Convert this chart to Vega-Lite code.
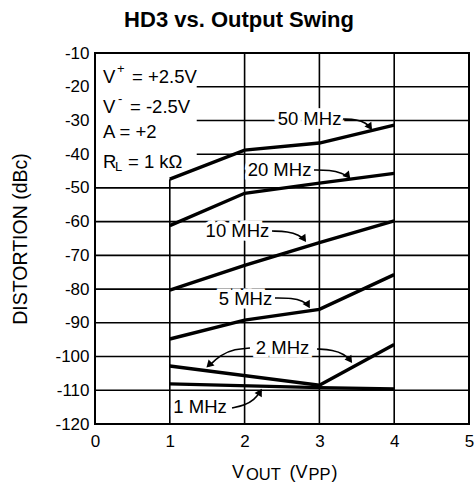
{
  "$schema": "https://vega.github.io/schema/vega-lite/v6.json",
  "width": 374,
  "height": 371,
  "autosize": {"type": "none"},
  "padding": {"left": 95, "top": 53, "right": 6, "bottom": 71},
  "background": "white",
  "config": {
    "font": "Liberation Sans",
    "view": {"stroke": "black", "strokeWidth": 2},
    "axis": {"labelColor": "black", "titleColor": "black", "labelFont": "Liberation Sans", "titleFont": "Liberation Sans", "grid": false, "ticks": false, "domain": false, "labelOverlap": false}
  },
  "title": {"text": "HD3 vs. Output Swing", "font": "Liberation Sans", "fontSize": 22, "fontWeight": "bold", "color": "black", "anchor": "middle", "dx": -43, "offset": 12},
  "datasets": {
    "grid": [
      {"x": 1, "x2": 1, "y": -120, "y2": -47.4},
      {"x": 2, "x2": 2, "y": -120, "y2": -10},
      {"x": 3, "x2": 3, "y": -120, "y2": -10},
      {"x": 4, "x2": 4, "y": -120, "y2": -10},
      {"x": 1.36, "x2": 5, "y": -20, "y2": -20},
      {"x": 1.36, "x2": 5, "y": -30, "y2": -30},
      {"x": 1.36, "x2": 5, "y": -40, "y2": -40},
      {"x": 0, "x2": 5, "y": -50, "y2": -50},
      {"x": 0, "x2": 5, "y": -60, "y2": -60},
      {"x": 0, "x2": 5, "y": -70, "y2": -70},
      {"x": 0, "x2": 5, "y": -80, "y2": -80},
      {"x": 0, "x2": 5, "y": -90, "y2": -90},
      {"x": 0, "x2": 5, "y": -100, "y2": -100},
      {"x": 0, "x2": 5, "y": -110, "y2": -110}
    ],
    "curves": [
      {"f": "50 MHz", "v": 1, "d": -47.4}, {"f": "50 MHz", "v": 2, "d": -38.8}, {"f": "50 MHz", "v": 3, "d": -36.7}, {"f": "50 MHz", "v": 4, "d": -31.4},
      {"f": "20 MHz", "v": 1, "d": -61.2}, {"f": "20 MHz", "v": 2, "d": -51.6}, {"f": "20 MHz", "v": 3, "d": -48.6}, {"f": "20 MHz", "v": 4, "d": -45.7},
      {"f": "10 MHz", "v": 1, "d": -80.3}, {"f": "10 MHz", "v": 2, "d": -73.0}, {"f": "10 MHz", "v": 3, "d": -66.2}, {"f": "10 MHz", "v": 4, "d": -59.8},
      {"f": "5 MHz", "v": 1, "d": -94.8}, {"f": "5 MHz", "v": 2, "d": -89.2}, {"f": "5 MHz", "v": 3, "d": -86.0}, {"f": "5 MHz", "v": 4, "d": -75.7},
      {"f": "2 MHz", "v": 1, "d": -102.8}, {"f": "2 MHz", "v": 3, "d": -108.5}, {"f": "2 MHz", "v": 4, "d": -96.4},
      {"f": "1 MHz", "v": 1, "d": -108.1}, {"f": "1 MHz", "v": 3, "d": -109.2}, {"f": "1 MHz", "v": 4, "d": -109.6}
    ],
    "labels": [
      {"t": "50 MHz", "x": 2.868, "y": -29.57},
      {"t": "20 MHz", "x": 2.467, "y": -44.69},
      {"t": "10 MHz", "x": 1.905, "y": -62.78},
      {"t": "5 MHz", "x": 2.012, "y": -82.94},
      {"t": "2 MHz", "x": 2.507, "y": -97.47},
      {"t": "1 MHz", "x": 1.404, "y": -114.96}
    ],
    "arrows": [
      {"a": "50", "i": 0, "x": 3.316, "y": -29.57}, {"a": "50", "i": 1, "x": 3.503, "y": -29.72}, {"a": "50", "i": 2, "x": 3.623, "y": -30.75}, {"a": "50", "i": 3, "x": 3.690, "y": -32.24},
      {"a": "20", "i": 0, "x": 2.928, "y": -44.69}, {"a": "20", "i": 1, "x": 3.142, "y": -44.69}, {"a": "20", "i": 2, "x": 3.302, "y": -45.58}, {"a": "20", "i": 3, "x": 3.396, "y": -46.77},
      {"a": "10", "i": 0, "x": 2.366, "y": -62.78}, {"a": "10", "i": 1, "x": 2.580, "y": -62.92}, {"a": "10", "i": 2, "x": 2.727, "y": -63.96}, {"a": "10", "i": 3, "x": 2.807, "y": -65.45},
      {"a": "5", "i": 0, "x": 2.406, "y": -82.64}, {"a": "5", "i": 1, "x": 2.634, "y": -82.64}, {"a": "5", "i": 2, "x": 2.781, "y": -83.53}, {"a": "5", "i": 3, "x": 2.861, "y": -85.01},
      {"a": "2L", "i": 0, "x": 2.072, "y": -97.47}, {"a": "2L", "i": 1, "x": 1.872, "y": -97.76}, {"a": "2L", "i": 2, "x": 1.671, "y": -99.54}, {"a": "2L", "i": 3, "x": 1.524, "y": -102.80},
      {"a": "2R", "i": 0, "x": 2.968, "y": -97.76}, {"a": "2R", "i": 1, "x": 3.182, "y": -98.06}, {"a": "2R", "i": 2, "x": 3.329, "y": -99.24}, {"a": "2R", "i": 3, "x": 3.422, "y": -101.32},
      {"a": "1", "i": 0, "x": 1.832, "y": -115.26}, {"a": "1", "i": 1, "x": 2.005, "y": -114.37}, {"a": "1", "i": 2, "x": 2.126, "y": -112.89}, {"a": "1", "i": 3, "x": 2.219, "y": -110.22}
    ],
    "heads": [
      {"a": "50", "x": 3.676, "y": -31.94, "ang": 55},
      {"a": "20", "x": 3.382, "y": -46.47, "ang": 50},
      {"a": "10", "x": 2.794, "y": -65.15, "ang": 55},
      {"a": "5", "x": 2.848, "y": -84.72, "ang": 60},
      {"a": "2L", "x": 1.524, "y": -102.51, "ang": 135},
      {"a": "2R", "x": 3.409, "y": -101.03, "ang": 55},
      {"a": "1", "x": 2.206, "y": -110.51, "ang": -60}
    ],
    "boxBig": [
      {"t": "V", "x": 0.107, "y": -17.12},
      {"t": "= +2.5V", "x": 0.495, "y": -17.12},
      {"t": "V", "x": 0.107, "y": -26.01},
      {"t": "= -2.5V", "x": 0.468, "y": -26.01},
      {"t": "A = +2", "x": 0.107, "y": -33.42},
      {"t": "R", "x": 0.107, "y": -42.32},
      {"t": "= 1 kΩ", "x": 0.441, "y": -42.32}
    ],
    "boxSmall": [
      {"t": "+", "x": 0.294, "y": -14.74},
      {"t": "-", "x": 0.307, "y": -23.64},
      {"t": "L", "x": 0.267, "y": -43.8}
    ],
    "xtitleBig": [
      {"t": "V", "x": 1.832, "y": -136.0},
      {"t": "(V", "x": 2.600, "y": -136.0},
      {"t": ")", "x": 3.162, "y": -136.0}
    ],
    "xtitleSmall": [
      {"t": "OUT", "x": 2.019, "y": -136.6},
      {"t": "PP", "x": 2.854, "y": -136.6}
    ]
  },
  "layer": [
    {
      "data": {"name": "grid"},
      "mark": {"type": "rule", "color": "black", "strokeWidth": 1.6},
      "encoding": {
        "x": {"field": "x", "type": "quantitative", "scale": {"domain": [0, 5], "nice": false}, "axis": {"values": [0, 1, 2, 3, 4, 5], "tickCount": 6, "labelExpr": "'' + datum.value", "title": null, "labelFontSize": 17, "labelPadding": 9, "labelFlush": false, "labelOverlap": false}},
        "x2": {"field": "x2"},
        "y": {"field": "y", "type": "quantitative", "scale": {"domain": [-120, -10], "nice": false}, "axis": {"values": [-120, -110, -100, -90, -80, -70, -60, -50, -40, -30, -20, -10], "tickCount": 12, "labelExpr": "'' + datum.value", "title": "DISTORTION (dBc)", "labelFontSize": 17, "labelPadding": 6, "labelOverlap": false, "labelBound": false, "titleFontSize": 19.5, "titleFontWeight": "normal", "titlePadding": 24}},
        "y2": {"field": "y2"}
      }
    },
    {
      "data": {"name": "labels"},
      "mark": {"type": "text", "fontSize": 18.5, "fill": "white", "stroke": "white", "strokeWidth": 7, "align": "center", "baseline": "middle"},
      "encoding": {"x": {"field": "x", "type": "quantitative"}, "y": {"field": "y", "type": "quantitative"}, "text": {"field": "t"}}
    },
    {
      "data": {"name": "curves"},
      "mark": {"type": "line", "color": "black", "strokeWidth": 3.4, "strokeJoin": "miter"},
      "encoding": {"x": {"field": "v", "type": "quantitative"}, "y": {"field": "d", "type": "quantitative"}, "detail": {"field": "f"}}
    },
    {
      "data": {"name": "arrows"},
      "mark": {"type": "line", "color": "black", "strokeWidth": 1.6, "interpolate": "basis"},
      "encoding": {"x": {"field": "x", "type": "quantitative"}, "y": {"field": "y", "type": "quantitative"}, "detail": {"field": "a"}, "order": {"field": "i"}}
    },
    {
      "data": {"name": "heads"},
      "mark": {"type": "point", "shape": "triangle-right", "filled": true, "color": "black", "size": 70, "opacity": 1},
      "encoding": {"x": {"field": "x", "type": "quantitative"}, "y": {"field": "y", "type": "quantitative"}, "angle": {"field": "ang", "type": "quantitative", "scale": null}}
    },
    {
      "data": {"name": "labels"},
      "mark": {"type": "text", "fontSize": 18.5, "color": "black", "align": "center", "baseline": "middle"},
      "encoding": {"x": {"field": "x", "type": "quantitative"}, "y": {"field": "y", "type": "quantitative"}, "text": {"field": "t"}}
    },
    {
      "data": {"name": "boxBig"},
      "mark": {"type": "text", "fontSize": 18.5, "color": "black", "align": "left", "baseline": "middle"},
      "encoding": {"x": {"field": "x", "type": "quantitative"}, "y": {"field": "y", "type": "quantitative"}, "text": {"field": "t"}}
    },
    {
      "data": {"name": "boxSmall"},
      "mark": {"type": "text", "fontSize": 13, "color": "black", "align": "left", "baseline": "middle"},
      "encoding": {"x": {"field": "x", "type": "quantitative"}, "y": {"field": "y", "type": "quantitative"}, "text": {"field": "t"}}
    },
    {
      "data": {"name": "xtitleBig"},
      "mark": {"type": "text", "fontSize": 18, "color": "black", "align": "left", "baseline": "alphabetic", "clip": false},
      "encoding": {"x": {"field": "x", "type": "quantitative"}, "y": {"field": "y", "type": "quantitative"}, "text": {"field": "t"}}
    },
    {
      "data": {"name": "xtitleSmall"},
      "mark": {"type": "text", "fontSize": 16.5, "color": "black", "align": "left", "baseline": "alphabetic", "clip": false},
      "encoding": {"x": {"field": "x", "type": "quantitative"}, "y": {"field": "y", "type": "quantitative"}, "text": {"field": "t"}}
    }
  ]
}
